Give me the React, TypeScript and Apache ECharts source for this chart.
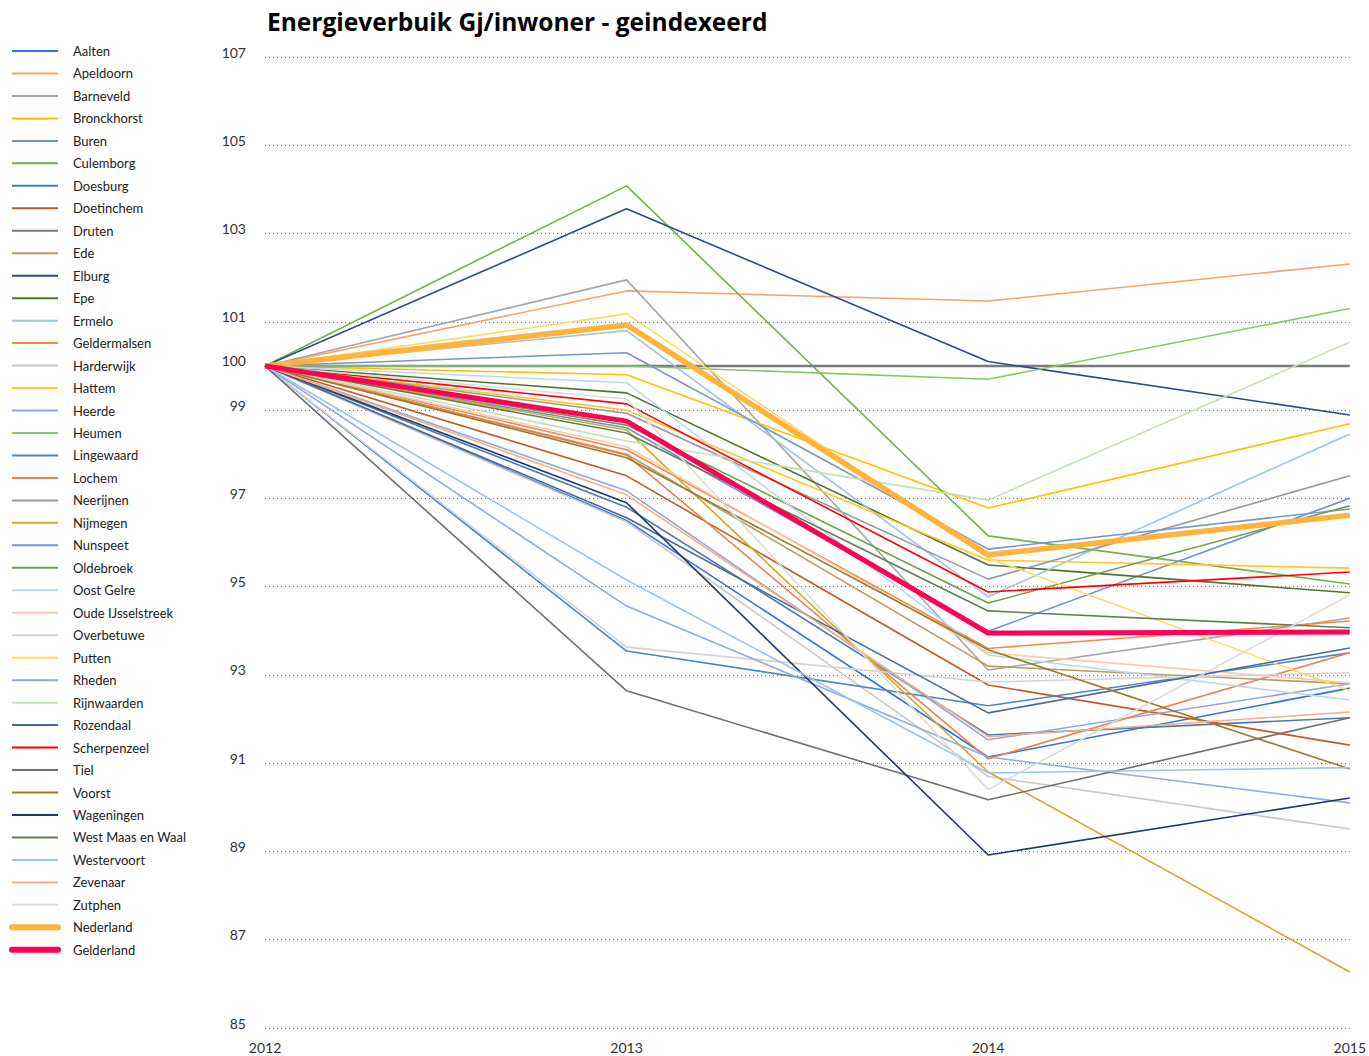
import React, { useEffect, useRef } from "react";
import * as echarts from "echarts";

const years = ["2012", "2013", "2014", "2015"];
const yTicks = [85, 87, 89, 91, 93, 95, 97, 99, 101, 103, 105, 107];
const extraTick = 100;

const names = [
  "Aalten", "Apeldoorn", "Barneveld", "Bronckhorst", "Buren", "Culemborg", "Doesburg",
  "Doetinchem", "Druten", "Ede", "Elburg", "Epe", "Ermelo", "Geldermalsen", "Harderwijk",
  "Hattem", "Heerde", "Heumen", "Lingewaard", "Lochem", "Neerijnen", "Nijmegen", "Nunspeet",
  "Oldebroek", "Oost Gelre", "Oude IJsselstreek", "Overbetuwe", "Putten", "Rheden",
  "Rijnwaarden", "Rozendaal", "Scherpenzeel", "Tiel", "Voorst", "Wageningen",
  "West Maas en Waal", "Westervoort", "Zevenaar", "Zutphen", "Nederland", "Gelderland",
];

const aalten = [100, 96.5, 91.14, 92.7];
const apeldoorn = [100, 101.7, 101.47, 102.31];
const barneveld = [100, 101.95, 93.11, 94.29];
const bronckhorst = [100, 99.8, 96.78, 98.69];
const buren = [100, 98.6, 93.99, 97.0];
const culemborg = [100, 104.08, 96.15, 95.06];
const doesburg = [100, 96.8, 91.64, 92.03];
const doetinchem = [100, 97.51, 92.77, 91.41];
const druten = [100, 100, 100, 100];
const ede = [100, 98.0, 93.2, 92.8];
const elburg = [100, 103.56, 100.1, 98.89];
const epe = [100, 99.39, 95.49, 94.86];
const ermelo = [100, 100.8, 94.77, 98.46];
const geldermalsen = [100, 98.1, 93.6, 94.22];
const harderwijk = [100, 96.47, 90.7, 89.51];
const hattem = [100, 99.0, 95.6, 95.42];
const heerde = [100, 97.17, 91.53, 92.8];
const heumen = [100, 100, 99.7, 101.3];
const lingewaard = [100, 93.54, 92.3, 93.5];
const lochem = [100, 97.98, 91.1, 93.5];
const neerijnen = [100, 98.93, 95.17, 97.51];
const nijmegen = [100, 98.55, 90.8, 86.27];
const nunspeet = [100, 100.3, 95.85, 96.76];
const oldebroek = [100, 98.66, 94.63, 96.83];
const oostGelre = [100, 99.62, 93.45, 92.43];
const oudeIJsselstreek = [100, 98.17, 93.5, 92.82];
const overbetuwe = [100, 93.63, 92.84, 93.05];
const putten = [100, 101.18, 95.65, 92.64];
const rheden = [100, 94.56, 91.14, 90.1];
const rijnwaarden = [100, 98.3, 96.96, 100.54];
const rozendaal = [100, 96.56, 92.14, 93.61];
const scherpenzeel = [100, 99.14, 94.88, 95.33];
const tiel = [100, 92.64, 90.17, 92.03];
const voorst = [100, 97.92, 93.57, 90.87];
const wageningen = [100, 96.9, 88.92, 90.21];
const westMaasEnWaal = [100, 98.48, 94.45, 94.07];
const westervoort = [100, 95.15, 90.78, 90.9];
const zevenaar = [100, 97.08, 91.6, 92.16];
const zutphen = [100, 99.25, 90.4, 94.81];
const nederland = [100, 100.93, 95.72, 96.62];
const gelderland = [100, 98.75, 93.95, 93.97];

const values = [
  aalten, apeldoorn, barneveld, bronckhorst, buren, culemborg, doesburg, doetinchem, druten,
  ede, elburg, epe, ermelo, geldermalsen, harderwijk, hattem, heerde, heumen, lingewaard,
  lochem, neerijnen, nijmegen, nunspeet, oldebroek, oostGelre, oudeIJsselstreek, overbetuwe,
  putten, rheden, rijnwaarden, rozendaal, scherpenzeel, tiel, voorst, wageningen,
  westMaasEnWaal, westervoort, zevenaar, zutphen, nederland, gelderland,
];

const colors = [
  "#2E72E6", "#F4A36C", "#A5A5A5", "#FFC000", "#6C8FD0", "#76B04E", "#4A7AB0",
  "#C05A28", "#7A7A7A", "#B89B5E", "#2F4B85", "#4E7430", "#9DC3E6", "#F48A4A", "#C8C8C8",
  "#FFC72C", "#8FAADC", "#8CC46A", "#4A86C8", "#E8844F", "#999999", "#D4A62A", "#7896CE",
  "#6E9E4E", "#BDD7EE", "#F8CBAD", "#D3D3D3", "#FFD966", "#8FAADC", "#C5E0B4", "#4A6A94",
  "#FF0000", "#6F6F6F", "#9C7A2C", "#22386A", "#5F7F4F", "#9DC3E6", "#F4B183", "#DBDBDB",
  "#FFB33B", "#FF0055",
];

const thickNames = ["Nederland", "Gelderland"];

const FONT = "Lato, 'Noto Sans', sans-serif";

export default function App() {
  const ref = useRef<HTMLDivElement>(null);
  useEffect(() => {
    if (!ref.current) return;
    const chart = echarts.init(ref.current, null, { renderer: "svg" });
    const series: any[] = names.map((n, i) => {
      const thick = thickNames.includes(n);
      return {
        name: n,
        type: "line",
        data: values[i],
        symbol: "none",
        yAxisIndex: 0,
        lineStyle: {
          color: colors[i],
          width: n === "Nederland" ? 5.5 : thick ? 5 : n === "Druten" ? 2.5 : 1.6,
        },
        itemStyle: { color: colors[i] },
        z: thick ? 5 : 2,
      };
    });
    const labelBase = {
      color: "#333",
      fontSize: 14,
      fontFamily: FONT,
      margin: 19,
      verticalAlign: "bottom",
      lineHeight: 10,
    };
    chart.setOption({
      animation: false,
      backgroundColor: "#fff",
      title: {
        text: "Energieverbuik Gj/inwoner - geindexeerd",
        left: 262,
        top: 4,
        textStyle: { fontSize: 24.5, fontWeight: "bold", color: "#000", fontFamily: "'Open Sans', sans-serif" },
      },
      legend: {
        orient: "vertical",
        left: 4,
        top: 39,
        itemWidth: 46,
        itemHeight: 14,
        itemGap: 8.47,
        data: names.map((n) =>
          thickNames.includes(n)
            ? { name: n, lineStyle: { width: 6, cap: "round" } }
            : { name: n }
        ),
        itemStyle: { opacity: 0 },
        textStyle: { fontSize: 13, lineHeight: 14, color: "#222", fontFamily: FONT, padding: [0, 0, 0, 10] },
      },
      grid: { left: 265, right: 19, top: 57, bottom: 28, containLabel: false },
      xAxis: {
        type: "category",
        data: years,
        boundaryGap: false,
        axisLine: { show: false },
        axisTick: { show: false },
        axisLabel: { color: "#333", fontSize: 14, fontFamily: FONT, margin: 12 },
      },
      yAxis: [
        {
          type: "value",
          min: 85,
          max: 107,
          interval: 2,
          axisLine: { show: false },
          axisTick: { show: false },
          axisLabel: {
            ...labelBase,
            formatter: (v: number) => (yTicks.includes(v) ? String(v) : ""),
          },
          splitLine: { lineStyle: { type: [1, 3], color: "#777", width: 1 } },
        },
        {
          type: "value",
          position: "left",
          min: 85,
          max: 107,
          interval: 1,
          axisLine: { show: false },
          axisTick: { show: false },
          splitLine: { show: false },
          axisLabel: {
            ...labelBase,
            formatter: (v: number) => (v === extraTick ? String(v) : ""),
          },
        },
      ],
      series,
    });
    return () => chart.dispose();
  }, []);
  return (
    <div
      ref={ref}
      style={{ position: "fixed", left: 0, top: 0, width: 1369, height: 1056 }}
    />
  );
}
